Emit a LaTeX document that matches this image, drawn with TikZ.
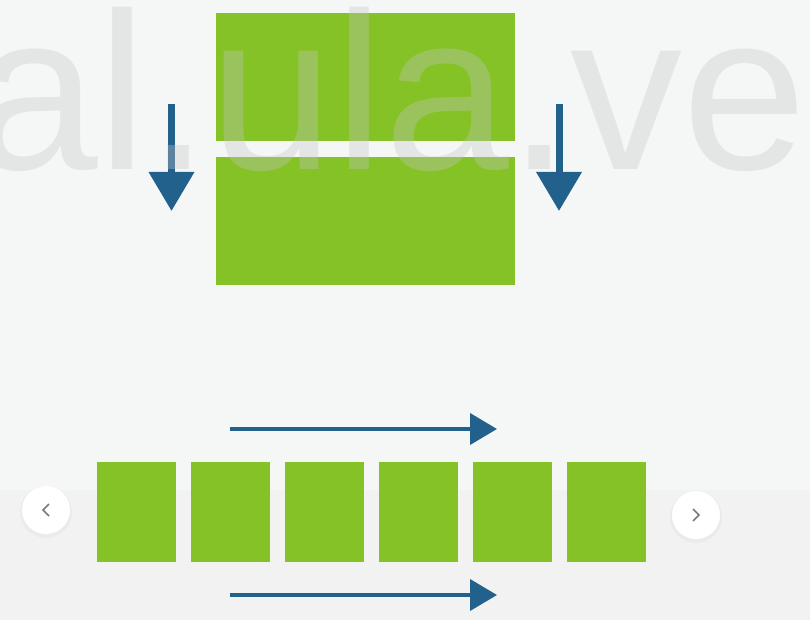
\documentclass[tikz,border=0pt]{standalone}
\usepackage{fontspec}
\newfontfamily\wmfont{Liberation Sans}
\usetikzlibrary{arrows.meta}
\definecolor{leaf}{HTML}{84C225}
\definecolor{navy}{HTML}{21618C}
\definecolor{paper}{HTML}{F5F7F7}
\definecolor{band}{HTML}{F2F2F2}
\definecolor{chev}{HTML}{7A7A7A}

\begin{document}
\begin{tikzpicture}[x=1pt,y=-1pt]
    \tikzset{block/.style={fill=leaf,inner sep=0pt,outer sep=0pt},
             half/.style={block,minimum width=299pt,minimum height=128pt},
             tile/.style={block,minimum width=79pt,minimum height=100pt},
             downarr/.style={draw=navy,line width=7pt,-{Triangle[length=39pt,width=44pt]}},
             rightarr/.style={draw=navy,line width=4pt,-{Triangle[length=27pt,width=31pt]}},
             navbtn/.style={circle,fill=white,minimum size=48pt,inner sep=0pt}};
    % background
    \fill[paper] (0,0) rectangle (810,620);
    \fill[band] (0,490) rectangle (810,620);
    \useasboundingbox (0,0) rectangle (810,620);
	% the two halves
	\node (upper) at (365.5,77) [half]{};
	\node (lower) at (365.5,221) [half]{};
	\coordinate (ltop) at (171.5,104);
	\coordinate (lend) at (171.5,211);
	\coordinate (rtop) at (559,104);
	\coordinate (rend) at (559,211);
	\draw[downarr] (ltop) -- (lend);
	\draw[downarr] (rtop) -- (rend);
	% the row of tiles
	\foreach \i in {0,...,5}
	  \node (t\i) at (136.5+94*\i,512) [tile]{};
	\coordinate (a1) at (230,429);
	\coordinate (a2) at (497,429);
	\coordinate (b1) at (230,595);
	\coordinate (b2) at (497,595);
	\draw[rightarr] (a1) -- (a2);
	\draw[rightarr] (b1) -- (b2);
	% buttons
	\fill[black!8] (46,512) circle (26pt);
	\node (prev) at (46,510) [navbtn]{};
	\fill[black!8] (696,517) circle (26pt);
	\node (next) at (696,515) [navbtn]{};
	\draw[chev,line width=1.6pt] ([shift={(3,-6)}]prev.center) -- ++(-6,6) -- ++(6,6);
	\draw[chev,line width=1.6pt] ([shift={(-3,-6)}]next.center) -- ++(6,6) -- ++(-6,6);
	% watermark
	\node (mark) at (-27,170) [anchor=base west,inner sep=0pt,text=black!22,opacity=0.35]
	  {\wmfont\fontsize{224}{224}\selectfont al.ula.ve};
\end{tikzpicture}
\end{document}
